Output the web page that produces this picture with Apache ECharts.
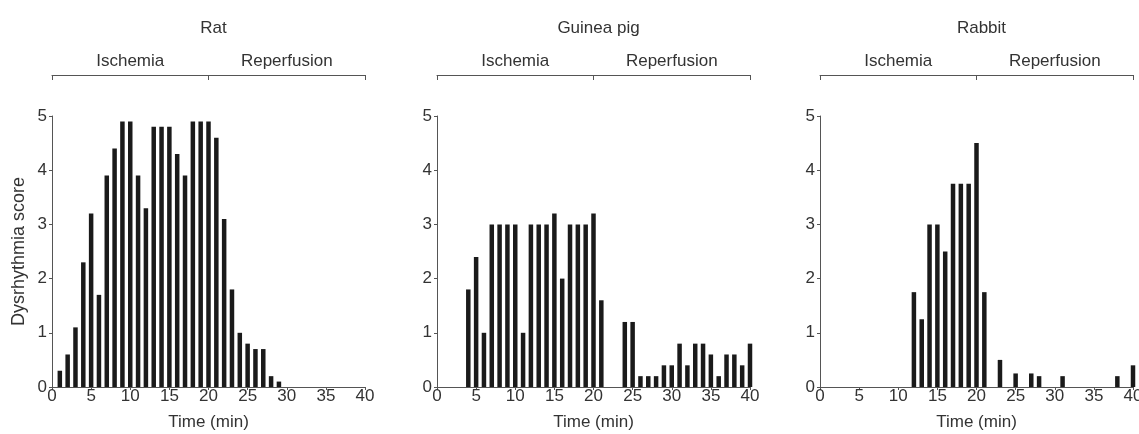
<!DOCTYPE html>
<html>
<head>
<meta charset="utf-8">
<script src="https://cdn.jsdelivr.net/npm/echarts@6/dist/echarts.min.js"></script>
<style>
  html, body { margin: 0; padding: 0; background: #fff; }
  #main { width: 1139px; height: 434px; }
</style>
</head>
<body>
<div id="main"></div>
<script>
// minutes after occlusion (1..40)
var minutes = [1, 2, 3, 4, 5, 6, 7, 8, 9, 10, 11, 12, 13, 14, 15, 16, 17, 18, 19, 20,
  21, 22, 23, 24, 25, 26, 27, 28, 29, 30, 31, 32, 33, 34, 35, 36, 37, 38, 39, 40];

// dysrhythmia score per minute
var ratScore = [0.3, 0.6, 1.1, 2.3, 3.2, 1.7, 3.9, 4.4, 4.9, 4.9, 3.9, 3.3, 4.8, 4.8, 4.8, 4.3, 3.9, 4.9, 4.9, 4.9,
  4.6, 3.1, 1.8, 1.0, 0.8, 0.7, 0.7, 0.2, 0.1, 0, 0, 0, 0, 0, 0, 0, 0, 0, 0, 0];
var guineaPigScore = [0, 0, 0, 1.8, 2.4, 1.0, 3, 3, 3, 3, 1.0, 3, 3, 3, 3.2, 2.0, 3, 3, 3, 3.2,
  1.6, 0, 0, 1.2, 1.2, 0.2, 0.2, 0.2, 0.4, 0.4, 0.8, 0.4, 0.8, 0.8, 0.6, 0.2, 0.6, 0.6, 0.4, 0.8];
var rabbitScore = [0, 0, 0, 0, 0, 0, 0, 0, 0, 0, 0, 1.75, 1.25, 3, 3, 2.5, 3.75, 3.75, 3.75, 4.5,
  1.75, 0, 0.5, 0, 0.25, 0, 0.25, 0.2, 0, 0, 0.2, 0, 0, 0, 0, 0, 0, 0.2, 0, 0.4];

var panelTitles = ["Rat", "Guinea pig", "Rabbit"];
var phaseLabels = ["Ischemia", "Reperfusion"];

var myChart = echarts.init(document.getElementById("main"));

var FONT = "Liberation Sans, Arial, sans-serif";
var AXIS = "#555";
var TEXT = "#333";
var lefts = [52, 437, 820];
var plotWidth = 313;
var allScores = [ratScore, guineaPigScore, rabbitScore];

var grids = [], xAxes = [], yAxes = [], series = [], titles = [];

for (var i = 0; i < 3; i++) {
  grids.push({ left: lefts[i], width: plotWidth, top: 116, bottom: 47, outerBoundsMode: "none", containLabel: false });

  // main time axis
  xAxes.push({
    gridIndex: i,
    type: "value",
    min: 0, max: 40, interval: 5,
    name: "Time (min)",
    nameLocation: "middle",
    nameGap: 27,
    nameTextStyle: { fontFamily: FONT, fontSize: 17, color: TEXT },
    axisLine: { lineStyle: { color: AXIS } },
    axisTick: { show: true, length: 3, lineStyle: { color: AXIS } },
    axisLabel: { fontFamily: FONT, fontSize: 17, color: TEXT, margin: 1 },
    splitLine: { show: false }
  });
  // bracket above the plot: ischemia / reperfusion
  xAxes.push({
    gridIndex: i,
    type: "value",
    position: "top",
    offset: 41,
    min: 0, max: 40, interval: 10,
    axisLine: { show: true, lineStyle: { color: AXIS } },
    axisTick: { show: true, inside: true, length: 5, customValues: [0, 20, 40], lineStyle: { color: AXIS } },
    axisLabel: {
      show: true,
      customValues: [10, 30],
      fontFamily: FONT, fontSize: 17, color: TEXT, margin: 5,
      formatter: function (v) { return v === 10 ? phaseLabels[0] : phaseLabels[1]; }
    },
    splitLine: { show: false }
  });

  yAxes.push({
    gridIndex: i,
    type: "value",
    min: 0, max: 5, interval: 1,
    name: i === 0 ? "Dysrhythmia score" : "",
    nameLocation: "middle",
    nameGap: 24,
    nameTextStyle: { fontFamily: FONT, fontSize: 18, color: TEXT },
    axisLine: { show: true, lineStyle: { color: AXIS } },
    axisTick: { show: true, length: 3, lineStyle: { color: AXIS } },
    axisLabel: { fontFamily: FONT, fontSize: 17, color: TEXT, margin: 5 },
    splitLine: { show: false }
  });

  series.push({
    type: "bar",
    xAxisIndex: i * 2,
    yAxisIndex: i,
    barWidth: 4.5,
    itemStyle: { color: "#1a1a1a" },
    data: minutes.map(function (m, k) { return [m, allScores[i][k]]; })
  });

  titles.push({
    text: panelTitles[i],
    left: lefts[i] + plotWidth / 2,
    textAlign: "center",
    top: 15,
    textStyle: { fontFamily: FONT, fontSize: 17, fontWeight: "normal", color: TEXT }
  });
}

var option = {
  backgroundColor: "#fff",
  animation: false,
  title: titles,
  grid: grids,
  xAxis: xAxes,
  yAxis: yAxes,
  series: series
};

myChart.setOption(option);
window.onresize = function () {
  myChart.resize();
};
</script>
</body>
</html>
